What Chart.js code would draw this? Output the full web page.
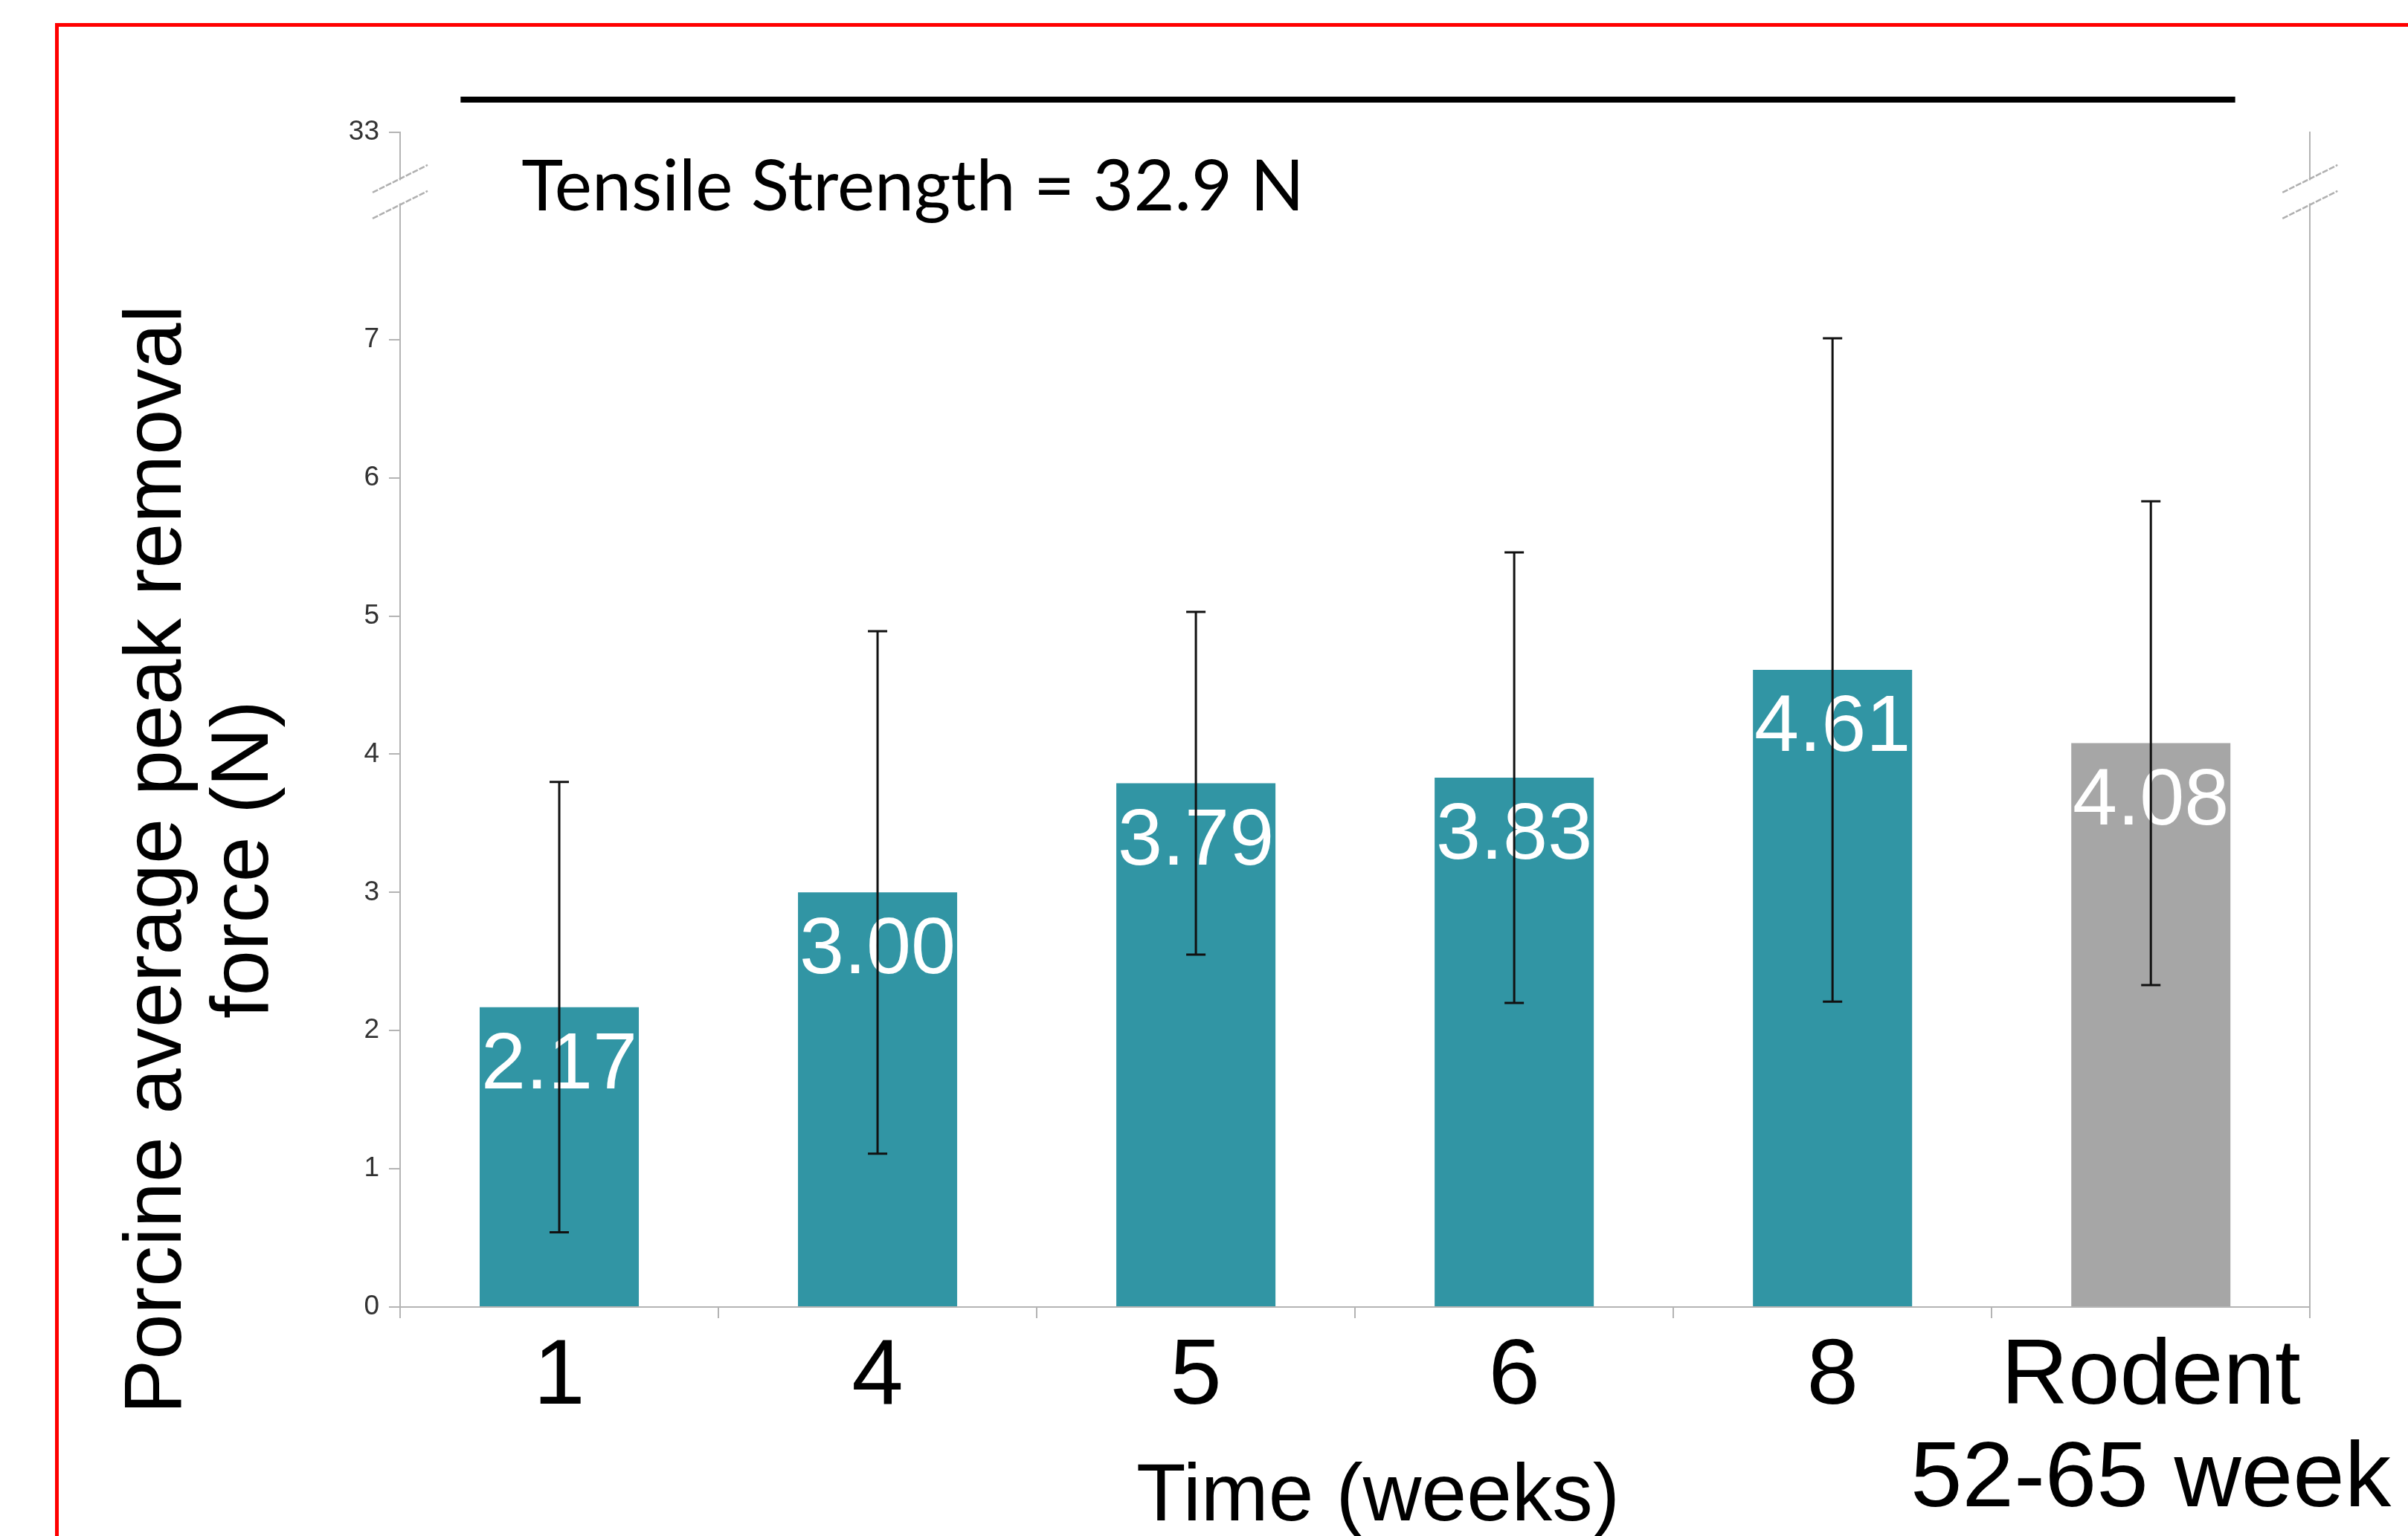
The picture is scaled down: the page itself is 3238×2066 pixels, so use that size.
<!DOCTYPE html>
<html><head><meta charset="utf-8">
<script src="https://cdn.jsdelivr.net/npm/chart.js@4.4.1/dist/chart.umd.min.js"></script>
<style>
html,body{margin:0;padding:0;background:#fff;overflow:hidden}
#wrap{position:relative;width:3238px;height:2066px;background:#fff}
#c{position:absolute;left:0;top:0}
#frame{position:absolute;left:74px;top:31px;width:3300px;height:2200px;border:5px solid #ff0000;box-sizing:border-box;pointer-events:none}
</style></head><body>
<div id="wrap"><canvas id="c" width="3238" height="2066"></canvas><div id="frame"></div></div>
<script>
// ---------------- data ----------------
const categories = ['1', '4', '5', '6', '8', ['Rodent', '52-65 week']];
const groups = ['Porcine', 'Porcine', 'Porcine', 'Porcine', 'Porcine', 'Rodent'];
const meanForce = [2.17, 3.00, 3.79, 3.83, 4.61, 4.08];
const sdForce = [1.63, 1.89, 1.24, 1.63, 2.40, 1.75];
const yTickValues = [0, 1, 2, 3, 4, 5, 6, 7, 33];
const tensileStrength = 32.9;
const yTitleLines = ['Porcine average peak removal', 'force (N)'];
const xTitle = 'Time (weeks)';

// ---------------- broken axis ----------------
const AXIS_BREAK = 7;       // linear part of the axis ends here
const AXIS_TOP_POS = 8.5;   // display position of the top tick (after the break)
function axisPos(v) { return v <= AXIS_BREAK ? v : AXIS_TOP_POS; }

const groupColor = { Porcine: '#3195a4', Rodent: '#a6a6a6' };
const SANS = "'Liberation Sans', Arial, sans-serif";
const AXIS_GRAY = '#b4b4b4';

const overlay = {
  id: 'overlay',
  afterDatasetsDraw(chart) {
    const ctx = chart.ctx, y = chart.scales.y;
    const meta = chart.getDatasetMeta(0);
    // value labels inside bars
    ctx.save();
    ctx.fillStyle = '#ffffff';
    ctx.font = '108px ' + SANS;
    ctx.textAlign = 'center';
    ctx.textBaseline = 'alphabetic';
    meta.data.forEach((bar, i) => {
      ctx.fillText(meanForce[i].toFixed(2), bar.x, bar.y + 109);
    });
    // error bars
    ctx.strokeStyle = '#111111';
    ctx.lineWidth = 3;
    meta.data.forEach((bar, i) => {
      const hi = y.getPixelForValue(meanForce[i] + sdForce[i]);
      const lo = y.getPixelForValue(meanForce[i] - sdForce[i]);
      const cap = 13;
      ctx.beginPath();
      ctx.moveTo(bar.x, hi); ctx.lineTo(bar.x, lo);
      ctx.moveTo(bar.x - cap, hi); ctx.lineTo(bar.x + cap, hi);
      ctx.moveTo(bar.x - cap, lo); ctx.lineTo(bar.x + cap, lo);
      ctx.stroke();
    });
    ctx.restore();
  },
  afterDraw(chart) {
    const ctx = chart.ctx, y = chart.scales.y, x = chart.scales.x;
    const area = chart.chartArea;
    ctx.save();
    // axis break marks on both vertical axes
    const bc = y.getPixelForValue(8.07);
    const gap = 17.5, hw = 37, rise = 18.5;
    [area.left, area.right].forEach(ax => {
      ctx.fillStyle = '#ffffff';
      ctx.fillRect(ax - 4, bc - gap + 2, 8, 2 * gap - 4);
      ctx.strokeStyle = '#b0b0b0';
      ctx.lineWidth = 2.5;
      ctx.setLineDash([8, 2]);
      [-gap, gap].forEach(d => {
        ctx.beginPath();
        ctx.moveTo(ax - hw, bc + d + rise);
        ctx.lineTo(ax + hw, bc + d - rise);
        ctx.stroke();
      });
      ctx.setLineDash([]);
    });
    // tensile strength reference line (above the broken axis top)
    const band = x.width / categories.length;
    const topPx = y.getPixelForValue(axisPos(tensileStrength));
    const lineY = topPx - 44;
    const x0 = x.getPixelForValue(0) - 0.31 * band;
    const x1 = x.getPixelForValue(categories.length - 1) + 0.265 * band;
    ctx.strokeStyle = '#000000';
    ctx.lineWidth = 8;
    ctx.beginPath(); ctx.moveTo(x0, lineY); ctx.lineTo(x1, lineY); ctx.stroke();
    ctx.fillStyle = '#000000';
    ctx.font = "95px Lato, 'Open Sans', sans-serif";
    ctx.textAlign = 'left';
    ctx.textBaseline = 'alphabetic';
    ctx.fillText('Tensile Strength = ' + tensileStrength + ' N', x0 + 82, topPx + 105);
    // x axis title
    ctx.font = '109px ' + SANS;
    ctx.textAlign = 'center';
    ctx.textBaseline = 'alphabetic';
    ctx.fillText(xTitle, (area.left + area.right) / 2 + 31, area.bottom + 287);
    // y axis title (two rotated lines)
    ctx.font = '110px ' + SANS;
    ctx.textAlign = 'center';
    ctx.textBaseline = 'middle';
    ctx.translate(213, area.bottom - 602);
    ctx.rotate(-Math.PI / 2);
    yTitleLines.forEach((t, i) => ctx.fillText(t, 0, i * 117));
    ctx.restore();
  }
};

new Chart(document.getElementById('c'), {
  type: 'bar',
  data: {
    labels: categories,
    datasets: [{
      data: meanForce,
      backgroundColor: groups.map(g => groupColor[g]),
      borderWidth: 0,
      barPercentage: 0.5,
      categoryPercentage: 1.0
    }]
  },
  options: {
    responsive: false,
    animation: false,
    devicePixelRatio: 1,
    layout: { padding: { top: 178, left: 0, right: 0, bottom: 0 } },
    plugins: { legend: { display: false }, tooltip: { enabled: false }, title: { display: false } },
    scales: {
      x: {
        grid: { display: true, drawOnChartArea: false, drawTicks: true, tickLength: 15, color: AXIS_GRAY, lineWidth: 2 },
        border: { display: true, color: AXIS_GRAY, width: 2 },
        ticks: { color: '#000', font: { family: SANS, size: 125, lineHeight: 1.1 }, padding: 12, maxRotation: 0, autoSkip: false },
        afterFit(s) { s.height = 308; }
      },
      y: {
        min: 0,
        max: AXIS_TOP_POS,
        afterBuildTicks(s) { s.ticks = yTickValues.map(v => ({ value: axisPos(v) })); },
        grid: { display: true, drawOnChartArea: false, drawTicks: true, tickLength: 15, color: AXIS_GRAY, lineWidth: 2 },
        border: { display: true, color: AXIS_GRAY, width: 2 },
        ticks: { color: '#333', font: { family: SANS, size: 37 }, padding: 13, callback: (v, i) => String(yTickValues[i]) },
        afterFit(s) { s.width = 538; }
      },
      yRight: {
        position: 'right',
        display: true,
        grid: { display: false },
        border: { display: true, color: AXIS_GRAY, width: 2 },
        ticks: { display: false },
        afterFit(s) { s.width = 128; }
      }
    }
  },
  plugins: [overlay]
});
</script>
</body></html>
